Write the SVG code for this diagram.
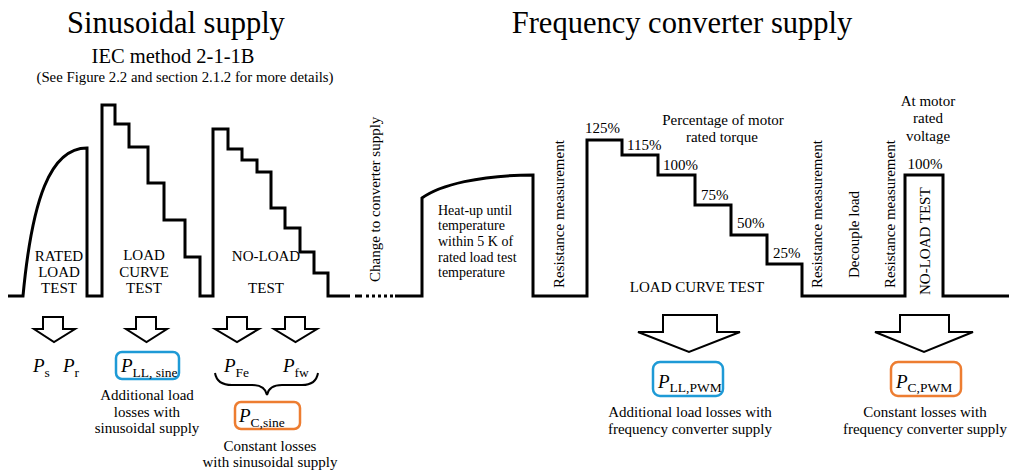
<svg xmlns="http://www.w3.org/2000/svg" width="1009" height="472" viewBox="0 0 1009 472" font-family="'Times New Roman', 'Liberation Serif', Tinos, 'DejaVu Serif', serif">
<style>
text{font-family:"Times New Roman","Liberation Serif",Tinos,"DejaVu Serif",serif;fill:#000}
.t15{font-size:15px}
.c{text-anchor:middle}
.wave{fill:none;stroke:#000;stroke-width:3;stroke-linejoin:miter}
.arr{fill:#fff;stroke:#000;stroke-width:2;stroke-linejoin:miter}
.P{font-size:19px;font-style:italic}
.sub{font-size:13.5px;font-style:normal}
.blue{fill:none;stroke:#1E9AD6;stroke-width:2.5}
.orange{fill:none;stroke:#ED7D31;stroke-width:2.5}
</style>
<g id="titles">
<text x="176" y="33" class="c" font-size="30.5">Sinusoidal supply</text>
<text x="173" y="63" class="c" font-size="20.5">IEC method 2-1-1B</text>
<text x="185" y="82" class="c" font-size="14.8">(See Figure 2.2 and section 2.1.2 for more details)</text>
<text x="682" y="33" class="c" font-size="30.5">Frequency converter supply</text>
</g>
<g id="connectors">
<path class="wave" d="M8,296 L23,296 C32,200 50,148 87,148 L87,296 L102,296 L102,105 L115,105 L115,124 L129,124 L129,147 L148,147 L148,183 L164,183 L164,220 L185,220 L185,257 L200,257 L200,296 L213,296 L213,129 L228,129 L228,149 L242,149 L242,160 L257,160 L257,172 L271,172 L271,208 L285,208 L285,228 L300,228 L300,252 L314,252 L314,273 L328,273 L328,296 L350,296"/>
<path d="M355,296 L393,296" fill="none" stroke="#000" stroke-width="3" stroke-dasharray="7,4,3,3,3,3,3,3,3,3,3,2"/>
<path class="wave" d="M395,296 L422,296 L422,198 C440,185 480,175 533,175 L533,296 L587,296 L587,140 L622,140 L622,155 L658,155 L658,175 L695,175 L695,205 L731,205 L731,235 L767,235 L767,264 L802,264 L802,296 L905,296 L905,175 L943,175 L943,296 L1009,296"/>
</g>
<g id="phase-labels" class="t15">
<text x="59" y="261" class="c t15">RATED</text>
<text x="59" y="277" class="c t15">LOAD</text>
<text x="59" y="293" class="c t15">TEST</text>
<text x="144" y="260" class="c t15">LOAD</text>
<text x="144" y="277" class="c t15">CURVE</text>
<text x="144" y="293" class="c t15">TEST</text>
<text x="266" y="261" class="c t15">NO-LOAD</text>
<text x="266" y="293" class="c t15">TEST</text>
<text class="t15" transform="translate(380,282) rotate(-90)">Change to converter supply</text>
<text x="438" y="215" font-size="14">Heat-up until</text>
<text x="438" y="230" font-size="14">temperature</text>
<text x="438" y="246" font-size="14">within 5 K of</text>
<text x="438" y="262" font-size="14">rated load test</text>
<text x="438" y="277" font-size="14">temperature</text>
<text class="t15" transform="translate(564,288) rotate(-90)">Resistance measurement</text>
<text class="t15" x="585" y="133">125%</text>
<text class="t15" x="627" y="150">115%</text>
<text class="t15" x="663" y="170">100%</text>
<text class="t15" x="701" y="200">75%</text>
<text class="t15" x="737" y="228">50%</text>
<text class="t15" x="773" y="258">25%</text>
<text x="723" y="125" class="c t15">Percentage of motor</text>
<text x="722" y="142" class="c t15">rated torque</text>
<text x="697" y="292" class="c t15">LOAD CURVE TEST</text>
<text class="t15" transform="translate(822,288) rotate(-90)">Resistance measurement</text>
<text class="t15" transform="translate(859,278) rotate(-90)">Decouple load</text>
<text class="t15" transform="translate(895,288) rotate(-90)">Resistance measurement</text>
<text class="t15" transform="translate(930,295) rotate(-90)">NO-LOAD TEST</text>
<text x="928" y="106" class="c t15">At motor</text>
<text x="928" y="123" class="c t15">rated</text>
<text x="928" y="141" class="c t15">voltage</text>
<text x="925" y="169" class="c t15">100%</text>
</g>
<g id="arrow-rated">
<polygon class="arr" points="43,317 63,317 63,329 75,329 54,342 34,329 43,329"/>
<text x="33" y="372" class="P">P<tspan class="sub" dy="5">s</tspan></text>
<text x="63" y="372" class="P">P<tspan class="sub" dy="5">r</tspan></text>
</g>
<g id="arrow-loadcurve-sine">
<polygon class="arr" points="136,317 156,317 156,329 167,329 146.5,342 126,329 136,329"/>
<rect class="blue" x="116" y="352" width="63" height="27" rx="6"/>
<text x="121" y="372" class="P">P<tspan class="sub" dy="5">LL, sine</tspan></text>
<text x="147" y="400" class="c t15">Additional load</text>
<text x="147" y="417" class="c t15">losses with</text>
<text x="147" y="433" class="c t15">sinusoidal supply</text>
</g>
<g id="arrow-noload-sine">
<polygon class="arr" points="227,317 247,317 247,329 259,329 237,342 215,329 227,329"/>
<polygon class="arr" points="285,317 305,317 305,329 317,329 295.5,342 274,329 285,329"/>
<text x="224" y="372" class="P">P<tspan class="sub" dy="5">Fe</tspan></text>
<text x="283" y="372" class="P">P<tspan class="sub" dy="5">fw</tspan></text>
<path d="M215,373 Q217,385 232,385 L252,385 Q265,385 267,395 Q269,385 282,385 L302,385 Q316,385 318,373" fill="none" stroke="#000" stroke-width="2"/>
<rect class="orange" x="235" y="402" width="65" height="27" rx="6"/>
<text x="239" y="422" class="P">P<tspan class="sub" dy="5">C,sine</tspan></text>
<text x="270" y="451" class="c t15">Constant losses</text>
<text x="270" y="467" class="c t15">with sinusoidal supply</text>
</g>
<g id="arrow-loadcurve-pwm">
<polygon class="arr" points="663,315 717,315 717,332 740,332 689,352 638,332 663,332"/>
<rect class="blue" x="653" y="362" width="70" height="34" rx="7"/>
<text x="658" y="388" class="P">P<tspan class="sub" dy="4">LL,PWM</tspan></text>
<text x="690" y="417" class="c t15">Additional load losses with</text>
<text x="690" y="434" class="c t15">frequency converter supply</text>
</g>
<g id="arrow-noload-pwm">
<polygon class="arr" points="900,315 949,315 949,332 973,332 924,352 875,332 900,332"/>
<rect class="orange" x="891" y="362" width="70" height="34" rx="7"/>
<text x="896" y="388" class="P">P<tspan class="sub" dy="4">C,PWM</tspan></text>
<text x="925" y="417" class="c t15">Constant losses with</text>
<text x="925" y="434" class="c t15">frequency converter supply</text>
</g>
</svg>
